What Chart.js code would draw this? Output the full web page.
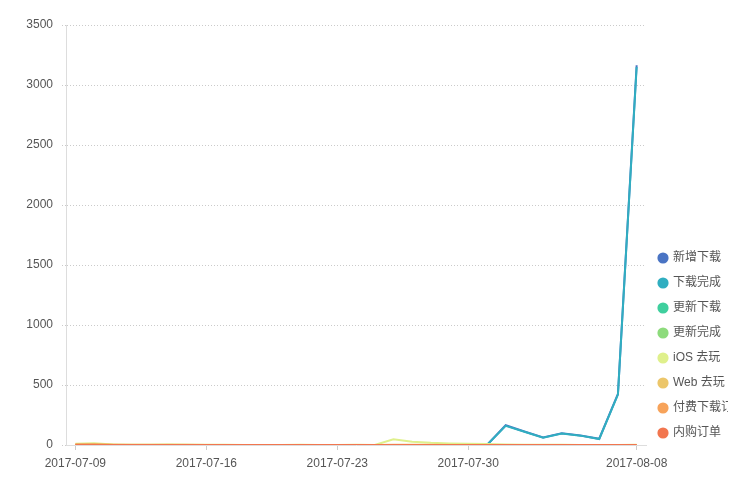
<!DOCTYPE html>
<html>
<head>
<meta charset="utf-8">
<script src="https://cdn.jsdelivr.net/npm/chart.js@4"></script>
<style>
  body { margin: 0; background: #fff; }
  #wrap { width: 728px; height: 496px; position: relative; }
</style>
</head>
<body>
<div id="wrap"><canvas id="trend-chart"></canvas></div>
<script>
// dates on the x axis, one per day
const dates = [
  '2017-07-09', '2017-07-10', '2017-07-11', '2017-07-12', '2017-07-13', '2017-07-14', '2017-07-15',
  '2017-07-16', '2017-07-17', '2017-07-18', '2017-07-19', '2017-07-20', '2017-07-21', '2017-07-22',
  '2017-07-23', '2017-07-24', '2017-07-25', '2017-07-26', '2017-07-27', '2017-07-28', '2017-07-29',
  '2017-07-30', '2017-07-31', '2017-08-01', '2017-08-02', '2017-08-03', '2017-08-04', '2017-08-05',
  '2017-08-06', '2017-08-07', '2017-08-08'
];
const shownDates = ['2017-07-09', '2017-07-16', '2017-07-23', '2017-07-30', '2017-08-08'];
const yTicks = [0, 500, 1000, 1500, 2000, 2500, 3000, 3500];

const seriesNames = ['新增下载', '下载完成', '更新下载', '更新完成', 'iOS 去玩', 'Web 去玩', '付费下载订单', '内购订单'];
const seriesColors = ['#4a74c4', '#30aec0', '#3fcf9e', '#8ddb7c', '#dff08c', '#ecc66a', '#f7a35a', '#f2764f'];

const newDownloads    = [0,0,0,0,0,0,0,0,0,0,0,0,0,0,0,0,0,0,0,0,0,0,0,165,112,62,97,80,52,425,3165];
const doneDownloads   = [0,0,0,0,0,0,0,0,0,0,0,0,0,0,0,0,0,0,0,0,0,0,0,160,110,60,95,78,50,420,3150];
const updateDownloads = [0,0,0,0,0,0,0,0,0,0,0,0,0,0,0,0,0,0,0,0,0,0,0,0,0,0,0,0,0,0,0];
const updateDone      = [0,0,0,0,0,0,0,0,0,0,0,0,0,0,0,0,0,0,0,0,0,0,0,0,0,0,0,0,0,0,0];
const iosPlay         = [10,14,5,3,2,4,3,2,2,1,1,1,2,1,1,2,0,48,28,18,13,10,8,5,3,2,2,1,1,1,2];
const webPlay         = [6,8,4,2,2,3,2,1,1,1,1,1,1,1,1,1,1,3,2,2,1,1,1,1,1,1,1,1,1,1,1];
const paidOrders      = [1,1,0,0,0,0,0,0,0,0,0,0,0,0,0,0,0,0,0,0,0,0,0,0,0,0,0,0,0,0,0];
const iapOrders       = [2,2,1,1,1,1,1,1,1,1,1,1,1,1,1,1,1,1,1,1,1,1,1,1,1,1,1,1,1,1,1];

const seriesValues = [newDownloads, doneDownloads, updateDownloads, updateDone, iosPlay, webPlay, paidOrders, iapOrders];

const fontFamily = "'Liberation Sans', 'Noto Sans CJK SC', sans-serif";
const textColor = '#555';

// later series have to sit on top, so the list is reversed and the legend reversed back
const datasets = seriesNames.map((name, i) => ({
  label: name,
  data: seriesValues[i],
  borderColor: seriesColors[i],
  backgroundColor: seriesColors[i],
  borderWidth: 2,
  pointRadius: 0,
  pointHoverRadius: 0,
  tension: 0,
  fill: false
})).reverse();

// the legend sits a few px lower than the plot bottom in the original
const legendNudge = {
  id: 'legendNudge',
  afterLayout(chart) {
    chart.legend.top += 7;
    chart.legend.bottom += 7;
  }
};

new Chart(document.getElementById('trend-chart'), {
  type: 'line',
  data: { labels: dates, datasets: datasets },
  plugins: [legendNudge],
  options: {
    responsive: true,
    maintainAspectRatio: false,
    animation: false,
    layout: { padding: { top: 25, left: 0, right: 0, bottom: 0 } },
    plugins: {
      tooltip: { enabled: false },
      legend: {
        position: 'right',
        align: 'end',
        fullSize: false,
        reverse: true,
        maxWidth: 82,
        labels: {
          usePointStyle: true,
          pointStyle: 'circle',
          boxWidth: 8,
          boxHeight: 6.5,
          padding: 13,
          color: textColor,
          font: { family: fontFamily, size: 12 }
        }
      }
    },
    scales: {
      x: {
        offset: true,
        afterFit: axis => { axis.height = 51; },
        afterBuildTicks: axis => {
          axis.ticks = axis.ticks.filter(t => shownDates.includes(dates[t.value]));
        },
        grid: {
          offset: false,
          drawOnChartArea: false,
          drawTicks: true,
          tickLength: 5,
          tickColor: '#ccc'
        },
        border: { display: true, color: '#ddd', width: 1 },
        ticks: {
          autoSkip: false,
          maxRotation: 0,
          padding: 6,
          color: textColor,
          font: { family: fontFamily, size: 12 },
          callback: function (value) { return this.getLabelForValue(value); }
        }
      },
      y: {
        min: 0,
        max: 3500,
        afterFit: axis => { axis.width = 66; },
        afterBuildTicks: axis => { axis.ticks = yTicks.map(v => ({ value: v })); },
        grid: {
          color: '#cbcbcb',
          lineWidth: 1,
          tickLength: 4,
          tickColor: '#cbcbcb',
          tickBorderDash: [1, 2]
        },
        border: { display: true, color: '#ddd', width: 1, dash: [1, 2] },
        ticks: {
          padding: 9,
          color: textColor,
          font: { family: fontFamily, size: 12 },
          callback: value => String(value)
        }
      }
    }
  }
});
</script>
</body>
</html>
